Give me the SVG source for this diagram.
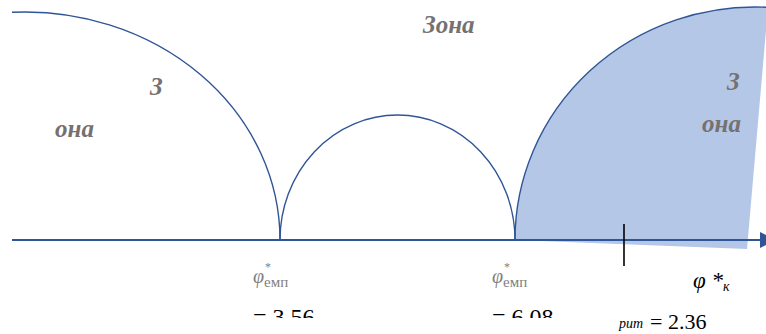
<svg xmlns="http://www.w3.org/2000/svg" width="766" height="334" viewBox="0 0 766 334">
<style>
.arc{fill:none;stroke:#2f5597;stroke-width:1.4}
.zone{font-family:"Liberation Serif",serif;font-style:italic;font-weight:bold;font-size:25px;fill:#767171}
.phi{font-family:"Liberation Serif",serif;fill:#7f7f7f}
.val{font-family:"Liberation Serif",serif;font-size:24px;fill:#000}
</style>
<defs>
<clipPath id="cut"><rect x="0" y="0" width="766" height="318"/></clipPath>
</defs>
<rect width="766" height="334" fill="#fff"/>
<g id="zone-right-fill">
<path d="M515,240 A240,233 0 0 1 768,7.3 L747,249 Z" fill="#b4c7e7"/>
</g>
<g id="connectors">
<path class="arc" d="M12,12.3 A255,228 0 0 1 280,240"/>
<path class="arc" d="M280,240 A117.5,125 0 0 1 515,240"/>
<path class="arc" d="M515,240 A240,233 0 0 1 768,7.3"/>
<line x1="12" y1="240" x2="762" y2="240" stroke="#2f5597" stroke-width="2"/>
<polygon points="760,232 776,240 760,248" fill="#2f5597"/>
<line x1="624" y1="224" x2="624" y2="266" stroke="#000" stroke-width="1.6"/>
</g>
<g id="zone-left">
<text class="zone" x="150" y="95">З</text>
<text class="zone" x="55" y="137">она</text>
</g>
<g id="zone-middle">
<text class="zone" x="423" y="33">Зона</text>
</g>
<g id="zone-right">
<text class="zone" x="727" y="90">З</text>
<text class="zone" x="702" y="132">она</text>
</g>
<g id="label-1">
<text class="phi" x="253" y="283" font-size="20"><tspan font-style="italic">φ</tspan><tspan font-size="15" dy="4">емп</tspan></text>
<text class="phi" x="265" y="271" font-size="12">*</text>
<text class="val" x="253" y="325" clip-path="url(#cut)">= 3.56</text>
</g>
<g id="label-2">
<text class="phi" x="492" y="283" font-size="20"><tspan font-style="italic">φ</tspan><tspan font-size="15" dy="4">емп</tspan></text>
<text class="phi" x="504" y="271" font-size="12">*</text>
<text class="val" x="492" y="325" clip-path="url(#cut)">= 6.08</text>
</g>
<g id="label-3">
<text x="693" y="288" font-family="Liberation Serif, serif" font-size="23" font-style="italic" fill="#000">φ *<tspan font-size="14" dy="3">к</tspan></text>
<text x="619" y="328" font-family="Liberation Serif, serif" font-size="14" font-style="italic" fill="#000">рит</text>
<text class="val" x="650" y="329" font-size="22" style="font-size:22px">= 2.36</text>
</g>
</svg>
